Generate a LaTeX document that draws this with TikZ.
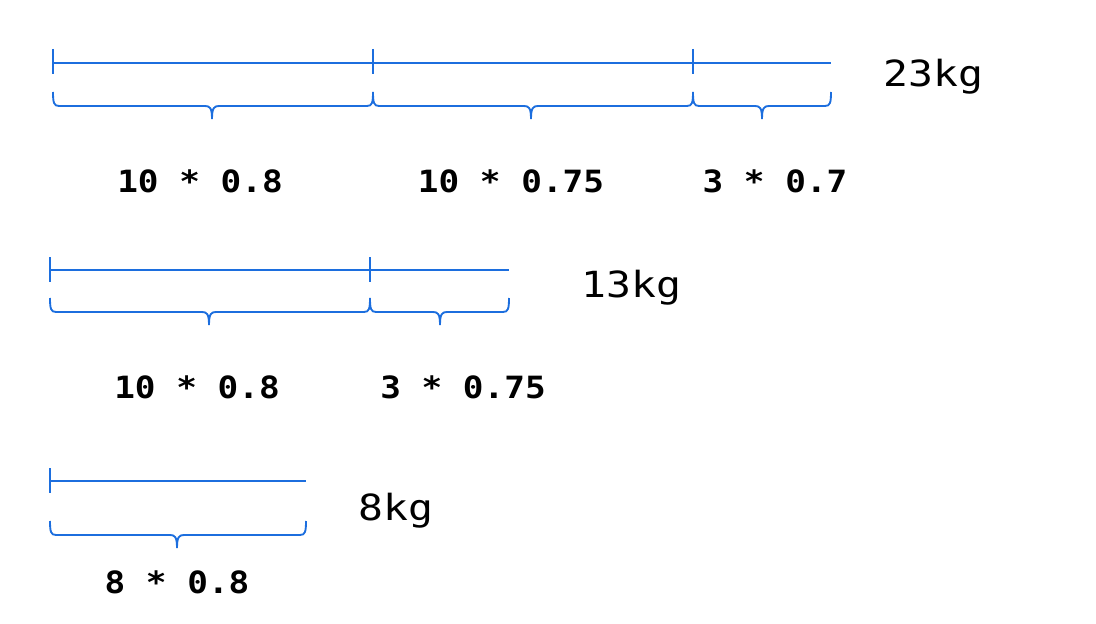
\documentclass[tikz,border=0pt]{standalone}
\usepackage{fontspec}
\newfontfamily\formfont[FakeStretch=1.12]{DejaVu Sans Mono}
\newfontfamily\kgfont[FakeStretch=1.15]{DejaVu Sans Mono}
\definecolor{lineblue}{RGB}{28,110,222}
\tikzset{
  bl/.style={draw=lineblue, line width=1.4pt, line cap=butt},
  formula/.style={inner sep=0pt, anchor=base, font=\formfont\bfseries\fontsize{23}{27}\selectfont},
  weight/.style={inner sep=0pt, anchor=base west, font=\kgfont\fontsize{27}{32}\selectfont}
}
% #1 left x, #2 right x, #3 tip x, #4 top y
\newcommand{\pxbrace}[4]{%
  \draw[bl] (#1,#4) .. controls (#1,#4+11) and (#1+1,#4+14) .. (#1+6,#4+14)
    -- (#3-7,#4+14) .. controls (#3-2,#4+14) and (#3,#4+16) .. (#3,#4+27)
    .. controls (#3,#4+16) and (#3+2,#4+14) .. (#3+7,#4+14)
    -- (#2-6,#4+14) .. controls (#2-1,#4+14) and (#2,#4+11) .. (#2,#4);}
\begin{document}
\begin{tikzpicture}[x=0.75pt,y=-0.75pt]
\useasboundingbox (0,0) rectangle (1096,624);
% ---- row 1
\coordinate (a0) at (53,63); \coordinate (a3) at (831,63);
\draw[bl] (a0) -- (a3);
\foreach \x in {53,373,693} \draw[bl] (\x,49) -- (\x,74);
\pxbrace{53}{373}{212}{92}
\pxbrace{373}{693}{531}{92}
\pxbrace{693}{831}{762}{92}
\node[formula] (f11) at (200,193) {10 * 0.8};
\node[formula] (f12) at (511,193) {10 * 0.75};
\node[formula] (f13) at (775,193) {3 * 0.7};
\node[weight] (w1) at (883,87) {23kg};
% ---- row 2
\coordinate (b0) at (50,270); \coordinate (b2) at (509,270);
\draw[bl] (b0) -- (b2);
\foreach \x in {50,370} \draw[bl] (\x,257) -- (\x,282);
\pxbrace{50}{370}{209}{298}
\pxbrace{370}{509}{440}{298}
\node[formula] (f21) at (197,398) {10 * 0.8};
\node[formula] (f22) at (463,398) {3 * 0.75};
\node[weight] (w2) at (581,297) {13kg};
% ---- row 3
\coordinate (c0) at (50,481); \coordinate (c1) at (306,481);
\draw[bl] (c0) -- (c1);
\draw[bl] (50,468) -- (50,493);
\pxbrace{50}{306}{177}{521}
\node[formula] (f31) at (177,593) {8 * 0.8};
\node[weight] (w3) at (358,520) {8kg};
\end{tikzpicture}
\end{document}
